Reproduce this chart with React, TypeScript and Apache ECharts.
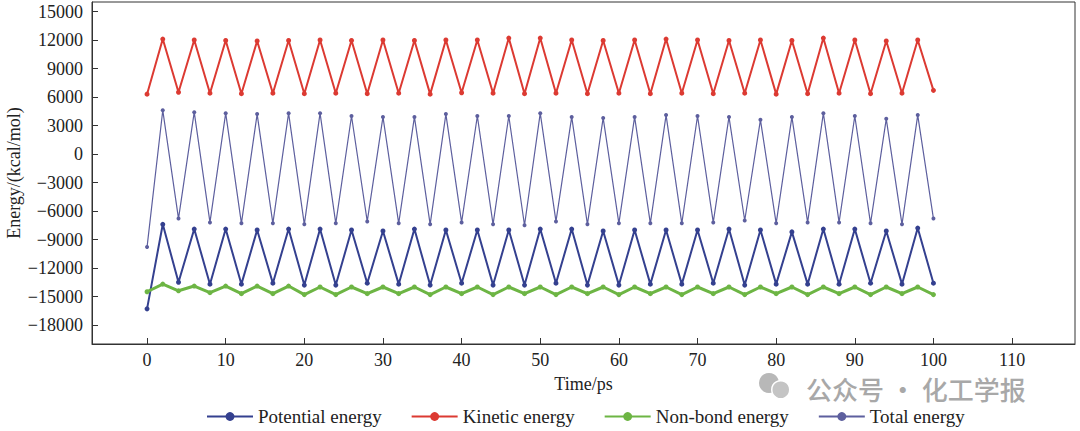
import { useEffect, useRef } from 'react';
import * as echarts from 'echarts';

// time (ps) of each turning point
const times = [
  0, 2, 4, 6, 8, 10, 12, 14, 16, 18, 20, 22, 24, 26, 28, 30, 32, 34, 36, 38, 40, 42, 44, 46, 48, 50,
  52, 54, 56, 58, 60, 62, 64, 66, 68, 70, 72, 74, 76, 78, 80, 82, 84, 86, 88, 90, 92, 94, 96, 98, 100,
];

const potential = [
  -16300, -7400, -13500, -7900, -13700, -7900, -13700, -8000, -13600, -7900, -13800, -7900, -13800,
  -8000, -13600, -8100, -13700, -7900, -13800, -8000, -13600, -8000, -13800, -8000, -13800, -7900,
  -13600, -7900, -13800, -8100, -13800, -8000, -13700, -8000, -13700, -8000, -13600, -7900, -13800,
  -8000, -13700, -8200, -13700, -7900, -13700, -7900, -13600, -8100, -13700, -7800, -13600,
];

const kinetic = [
  6300, 12100, 6500, 12000, 6400, 11950, 6350, 11900, 6400, 11950, 6350, 12000, 6400, 11950, 6350,
  12000, 6400, 11950, 6300, 12000, 6450, 12000, 6400, 12200, 6350, 12200, 6400, 12000, 6350, 11950,
  6400, 12000, 6350, 12100, 6400, 12000, 6350, 11950, 6400, 12000, 6300, 11950, 6350, 12200, 6400,
  12000, 6350, 11900, 6400, 12000, 6700,
];

const nonBond = [
  -14500, -13700, -14400, -13900, -14600, -13900, -14700, -13900, -14700, -13900, -14800, -14000,
  -14800, -14000, -14700, -14000, -14700, -14000, -14800, -14000, -14700, -14000, -14800, -14000,
  -14700, -14000, -14800, -14000, -14700, -14000, -14800, -14000, -14700, -14000, -14800, -14000,
  -14700, -14000, -14800, -14000, -14700, -14000, -14800, -14000, -14700, -14000, -14800, -14000,
  -14700, -14000, -14800,
];

const total = [
  -9800, 4600, -6800, 4400, -7200, 4300, -7300, 4200, -7300, 4300, -7400, 4300, -7300, 4000, -7100,
  3900, -7300, 3900, -7400, 4200, -7200, 4000, -7400, 4000, -7500, 4300, -7100, 3900, -7400, 3800,
  -7300, 3900, -7300, 4100, -7300, 4000, -7200, 3900, -7000, 3600, -7300, 3900, -7200, 4300, -7200,
  4000, -7300, 3700, -7400, 4100, -6800,
];

const xTicks = [0, 10, 20, 30, 40, 50, 60, 70, 80, 90, 100, 110];
const yTicks = [-18000, -15000, -12000, -9000, -6000, -3000, 0, 3000, 6000, 9000, 12000, 15000];

const seriesNames = ['Potential energy', 'Kinetic energy', 'Non-bond energy', 'Total energy'];
const seriesColors = ['#34408f', '#dc3a32', '#6db544', '#5d5f9e'];

const serif = '"Liberation Serif", "Times New Roman", serif';

export default function App() {
  const chartRef = useRef<HTMLDivElement>(null);

  useEffect(() => {
    document.body.style.margin = '0';
    if (!chartRef.current) return;
    const chart = echarts.init(chartRef.current, undefined, { renderer: 'svg' });

    const pair = (vals: number[]) => vals.map((v, i) => [times[i], v]);
    const values = [potential, kinetic, nonBond, total];

    chart.setOption({
      animation: false,
      backgroundColor: '#ffffff',
      textStyle: { fontFamily: serif },
      grid: {
        left: 92,
        right: 5,
        top: 2,
        bottom: 87,
        show: true,
        borderColor: '#333',
        borderWidth: 1,
        outerBoundsMode: 'none',
        containLabel: false,
      },
      legend: {
        bottom: 0,
        left: 201,
        itemWidth: 46,
        itemHeight: 11,
        itemGap: 29,
        textStyle: { fontFamily: serif, fontSize: 19, color: '#222' },
        data: seriesNames,
      },
      xAxis: {
        type: 'value',
        min: -7,
        max: 118,
        name: 'Time/ps',
        nameLocation: 'middle',
        nameGap: 31,
        nameTextStyle: { fontFamily: serif, fontSize: 18, color: '#222' },
        splitLine: { show: false },
        axisLine: { onZero: false, lineStyle: { color: '#333' } },
        axisTick: { inside: true, length: 6, customValues: xTicks, lineStyle: { color: '#333' } },
        axisLabel: {
          customValues: xTicks,
          fontFamily: serif,
          fontSize: 18,
          color: '#222',
          margin: 7,
          formatter: (v: number) => String(v),
        },
      },
      yAxis: {
        type: 'value',
        min: -20000,
        max: 16000,
        name: 'Energy/(kcal/mol)',
        nameLocation: 'middle',
        nameGap: 69,
        nameMoveOverlap: false,
        nameTextStyle: { fontFamily: serif, fontSize: 18, color: '#222' },
        splitLine: { show: false },
        axisLine: { onZero: false, lineStyle: { color: '#333' } },
        axisTick: { inside: true, length: 6, customValues: yTicks, lineStyle: { color: '#333' } },
        axisLabel: {
          customValues: yTicks,
          fontFamily: serif,
          fontSize: 18,
          color: '#222',
          margin: 9,
          formatter: (v: number) => String(v).replace('-', '\u2212'),
        },
      },
      series: seriesNames.map((name, i) => ({
        name,
        type: 'line',
        data: pair(values[i]),
        color: seriesColors[i],
        symbol: 'circle',
        symbolSize: i === 3 ? 4 : 5,
        lineStyle: { width: i === 3 ? 1.2 : i === 2 ? 3 : 2, color: seriesColors[i] },
        itemStyle: { color: seriesColors[i] },
      })),
      graphic: [
        {
          type: 'circle',
          left: 759,
          top: 373,
          shape: { r: 10 },
          style: { fill: '#b8b8b8' },
        },
        {
          type: 'circle',
          left: 771,
          top: 380,
          shape: { r: 9 },
          style: { fill: '#c4c4c4', stroke: '#fff', lineWidth: 1.5 },
        },
        {
          type: 'text',
          left: 806,
          top: 375,
          style: {
            text: '公众号 · 化工学报',
            fill: '#a8a8a8',
            font: '500 26px "Noto Sans CJK SC", sans-serif',
          },
        },
      ],
    });

    return () => chart.dispose();
  }, []);

  return <div ref={chartRef} style={{ width: 1080, height: 431 }} />;
}
